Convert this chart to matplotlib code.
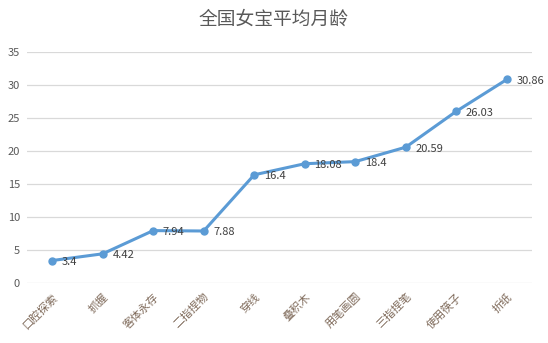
import matplotlib
matplotlib.use("Agg")
import matplotlib.pyplot as plt

plt.rcParams['font.family'] = ['Noto Sans CJK SC', 'DejaVu Sans']

skills = ["口腔探索", "抓握", "客体永存", "二指捏物", "穿线",
          "叠积木", "用笔画圆", "三指捏笔", "使用筷子", "折纸"]
months = [3.4, 4.42, 7.94, 7.88, 16.4, 18.08, 18.4, 20.59, 26.03, 30.86]
month_labels = ["3.4", "4.42", "7.94", "7.88", "16.4", "18.08", "18.4", "20.59", "26.03", "30.86"]
yticks = [0, 5, 10, 15, 20, 25, 30, 35]

fig = plt.figure(figsize=(5.48, 3.43), dpi=100)
ax = fig.add_axes([0.049, 0.175, 0.922, 0.673])

x = list(range(len(skills)))
ax.plot(x, months, color="#5B9BD5", linewidth=2.2, marker="o", markersize=5,
        zorder=3)
for xi, yi, lab in zip(x, months, month_labels):
    ax.annotate(lab, (xi, yi), xytext=(7, -1), textcoords="offset points",
                ha="left", va="center", fontsize=8, color="#404040")

ax.set_xlim(-0.5, len(skills) - 0.5)
ax.set_ylim(0, 35)
ax.set_yticks(yticks)
ax.set_yticklabels([str(v) for v in yticks], fontsize=8, color="#595959")
ax.set_xticks(x)
ax.set_xticklabels(skills, rotation=45, ha="right", va="top",
                   rotation_mode="anchor", fontsize=8, color="#7F6A5A")
ax.tick_params(axis="both", length=0)
ax.tick_params(axis="y", pad=5)
ax.tick_params(axis="x", pad=6)
ax.grid(axis="y", color="#D9D9D9", linewidth=0.9)
ax.set_axisbelow(True)
for s in ax.spines.values():
    s.set_visible(False)

fig.text(0.5, 0.945, "全国女宝平均月龄", ha="center", va="center",
         fontsize=13.5, color="#595959")

fig.savefig("out.png", dpi=100)
